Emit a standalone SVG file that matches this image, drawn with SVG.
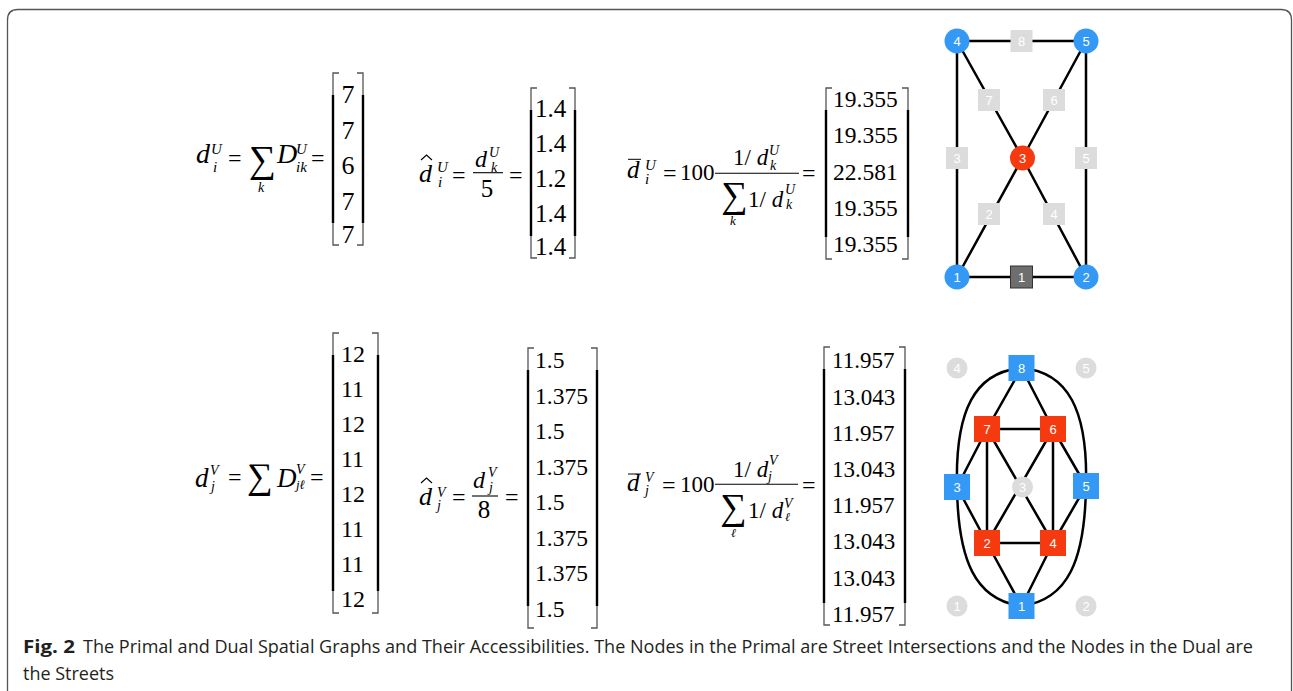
<svg xmlns="http://www.w3.org/2000/svg" width="1293" height="691" viewBox="0 0 1293 691">
<style>
.m{font-family:"Liberation Serif","Times New Roman",serif;fill:#000}
.i{font-style:italic}
.br{fill:none;stroke:#555;stroke-width:1.3}
.bm{fill:none;stroke:#000;stroke-width:2.4}
.bar{stroke:#000;stroke-width:1.1}
.e{stroke:#000;stroke-width:2.5;fill:none}
.nl{font-family:"Liberation Sans",Arial,sans-serif;font-size:13px;fill:#fff;text-anchor:middle}
.blue{fill:#3399f5}
.red{fill:#f53a0f}
.lg{fill:#dcdcdc}
.cap{font-family:"Open Sans","Noto Sans",sans-serif;font-size:17.5px;fill:#231f20}
</style>
<rect width="1293" height="691" fill="#fff"/>
<path d="M7.5,691 V20 Q7.5,9.5 18,9.5 H1281 Q1291.5,9.5 1291.5,20 V691" fill="none" stroke="#555" stroke-width="1.3"/>

<!-- Top row equations -->
<g id="eq-top-1">
<text class="m i" x="196" y="163" font-size="28">d</text>
<text class="m i" x="211" y="154" font-size="15">U</text>
<text class="m i" x="213" y="172" font-size="15">i</text>
<text class="m" x="228" y="166" font-size="24">=</text>
<text class="m" x="249" y="172" font-size="38">∑</text>
<text class="m i" x="258" y="192" font-size="14">k</text>
<text class="m i" x="277" y="163" font-size="28">D</text>
<text class="m i" x="296" y="154" font-size="15">U</text>
<text class="m i" x="296" y="172" font-size="15">ik</text>
<text class="m" x="311" y="166" font-size="24">=</text>
<path class="br" d="M339,73 H333 V245 H339 M357,73 H363 V245 H357"/>
<path class="bm" d="M333,95 V223 M363,95 V223"/>
<g class="m" font-size="26" text-anchor="middle">
<text x="348" y="103">7</text><text x="348" y="138.5">7</text><text x="348" y="174">6</text><text x="348" y="210">7</text><text x="348" y="243">7</text>
</g>
</g>

<g id="eq-top-2">
<text class="m i" x="419" y="182" font-size="26">d</text>
<path d="M421,160 L426.5,155 L432,160" fill="none" stroke="#000" stroke-width="1.1"/>
<text class="m i" x="437" y="172" font-size="15">U</text>
<text class="m i" x="438" y="187" font-size="15">i</text>
<text class="m" x="452" y="183" font-size="24">=</text>
<text class="m i" x="475" y="167" font-size="24">d</text>
<text class="m i" x="489" y="157" font-size="14">U</text>
<text class="m i" x="491" y="172" font-size="14">k</text>
<line class="bar" x1="473" y1="172.7" x2="503" y2="172.7"/>
<text class="m" x="487" y="197" font-size="25" text-anchor="middle">5</text>
<text class="m" x="509" y="183" font-size="24">=</text>
<path class="br" d="M537,88 H531 V258 H537 M569,88 H575 V258 H569"/>
<path class="bm" d="M531,110 V236 M575,110 V236"/>
<g class="m" font-size="25">
<text x="535" y="117">1.4</text><text x="535" y="152">1.4</text><text x="535" y="187">1.2</text><text x="535" y="222">1.4</text><text x="535" y="254.5">1.4</text>
</g>
</g>

<g id="eq-top-3">
<text class="m i" x="627" y="178" font-size="25">d</text>
<line x1="628" y1="159.3" x2="641" y2="159.3" stroke="#000" stroke-width="1"/>
<text class="m i" x="645" y="170" font-size="15">U</text>
<text class="m i" x="645" y="184" font-size="15">i</text>
<text class="m" x="663" y="181" font-size="24">=</text>
<text class="m" x="680" y="180" font-size="23">100</text>
<text class="m" x="733" y="165" font-size="23">1/ <tspan class="i">d</tspan></text>
<text class="m i" x="769" y="155" font-size="14">U</text>
<text class="m i" x="770" y="170" font-size="14">k</text>
<line class="bar" x1="715" y1="173.3" x2="799" y2="173.3"/>
<text class="m" x="721" y="207" font-size="37">∑</text>
<text class="m" x="748" y="207" font-size="23">1/ <tspan class="i">d</tspan></text>
<text class="m i" x="785" y="194" font-size="14">U</text>
<text class="m i" x="786" y="209" font-size="14">k</text>
<text class="m i" x="730" y="225" font-size="13">k</text>
<text class="m" x="802" y="181" font-size="24">=</text>
<path class="br" d="M832,88 H826 V259 H832 M902,88 H908 V259 H902"/>
<path class="bm" d="M826,110 V237 M908,110 V237"/>
<g class="m" font-size="23.5">
<text x="833" y="107">19.355</text><text x="833" y="143">19.355</text><text x="833" y="180">22.581</text><text x="833" y="215.5">19.355</text><text x="833" y="251.5">19.355</text>
</g>
</g>

<!-- Bottom row equations -->
<g id="eq-bot-1">
<text class="m i" x="195" y="487" font-size="27">d</text>
<text class="m i" x="210" y="475" font-size="14">V</text>
<text class="m i" x="211" y="491" font-size="14">j</text>
<text class="m" x="228" y="485" font-size="24">=</text>
<text class="m" x="247" y="488" font-size="36">∑</text>
<text class="m i" x="277" y="487" font-size="27">D</text>
<text class="m i" x="296" y="474" font-size="14">V</text>
<text class="m i" x="296" y="489" font-size="13">jℓ</text>
<text class="m" x="310" y="485" font-size="24">=</text>
<path class="br" d="M339,333 H333 V613 H339 M372,333 H378 V613 H372"/>
<path class="bm" d="M333,355 V591 M378,355 V591"/>
<g class="m" font-size="24">
<text x="341" y="361.7">12</text><text x="341" y="396.7">11</text><text x="341" y="431.7">12</text><text x="341" y="466.7">11</text><text x="341" y="501.7">12</text><text x="341" y="536.7">11</text><text x="341" y="571.7">11</text><text x="341" y="606.7">12</text>
</g>
</g>

<g id="eq-bot-2">
<text class="m i" x="419" y="505" font-size="26">d</text>
<path d="M421,483 L426.5,478 L432,483" fill="none" stroke="#000" stroke-width="1.1"/>
<text class="m i" x="437" y="497" font-size="14">V</text>
<text class="m i" x="437" y="510" font-size="14">j</text>
<text class="m" x="452" y="505" font-size="24">=</text>
<text class="m i" x="473" y="488" font-size="24">d</text>
<text class="m i" x="488" y="477" font-size="14">V</text>
<text class="m i" x="489" y="492" font-size="14">j</text>
<line class="bar" x1="472" y1="496" x2="498" y2="496"/>
<text class="m" x="484" y="518" font-size="25" text-anchor="middle">8</text>
<text class="m" x="505" y="505" font-size="24">=</text>
<path class="br" d="M534,348 H528 V628 H534 M591,348 H597 V628 H591"/>
<path class="bm" d="M528,370 V606 M597,370 V606"/>
<g class="m" font-size="23.5">
<text x="535" y="368.3">1.5</text><text x="535" y="403.8">1.375</text><text x="535" y="439.3">1.5</text><text x="535" y="474.8">1.375</text><text x="535" y="510.3">1.5</text><text x="535" y="545.8">1.375</text><text x="535" y="581.3">1.375</text><text x="535" y="616.8">1.5</text>
</g>
</g>

<g id="eq-bot-3">
<text class="m i" x="627" y="491" font-size="25">d</text>
<line x1="628" y1="474" x2="641" y2="474" stroke="#000" stroke-width="1"/>
<text class="m i" x="645" y="482" font-size="14">V</text>
<text class="m i" x="645" y="495" font-size="14">j</text>
<text class="m" x="662" y="493" font-size="24">=</text>
<text class="m" x="680" y="492" font-size="23">100</text>
<text class="m" x="733" y="477" font-size="23">1/ <tspan class="i">d</tspan></text>
<text class="m i" x="769" y="465" font-size="14">V</text>
<text class="m i" x="768" y="481" font-size="14">j</text>
<line class="bar" x1="715" y1="484.3" x2="798" y2="484.3"/>
<text class="m" x="720" y="519" font-size="37">∑</text>
<text class="m" x="748" y="518" font-size="23">1/ <tspan class="i">d</tspan></text>
<text class="m i" x="784" y="508" font-size="14">V</text>
<text class="m i" x="785" y="521" font-size="12">ℓ</text>
<text class="m i" x="731" y="537" font-size="12">ℓ</text>
<text class="m" x="802" y="493" font-size="24">=</text>
<path class="br" d="M830,347 H824 V625 H830 M899,347 H905 V625 H899"/>
<path class="bm" d="M824,369 V603 M905,369 V603"/>
<g class="m" font-size="23">
<text x="832" y="368.3">11.957</text><text x="832" y="404.5">13.043</text><text x="832" y="440.7">11.957</text><text x="832" y="476.9">13.043</text><text x="832" y="513.1">11.957</text><text x="832" y="549.3">13.043</text><text x="832" y="585.5">13.043</text><text x="832" y="621.7">11.957</text>
</g>
</g>

<!-- Primal graph -->
<g id="primal-edges">
<path class="e" d="M957,41 H1086 M957,41 V277 M1086,41 V277 M957,277 H1086 M957,41 L1022.5,158 L1086,277 M1086,41 L1022.5,158 L957,277"/>
</g>
<g id="p-street-8"><rect class="lg" x="1010.5" y="30" width="22" height="22"/><text class="nl" x="1021.5" y="45.5">8</text></g>
<g id="p-street-7"><rect class="lg" x="978" y="89" width="22" height="22"/><text class="nl" x="989" y="104.5">7</text></g>
<g id="p-street-6"><rect class="lg" x="1043" y="89" width="22" height="22"/><text class="nl" x="1054" y="104.5">6</text></g>
<g id="p-street-3"><rect class="lg" x="946" y="147" width="22" height="22"/><text class="nl" x="957" y="162.5">3</text></g>
<g id="p-street-5"><rect class="lg" x="1075" y="147" width="22" height="22"/><text class="nl" x="1086" y="162.5">5</text></g>
<g id="p-street-2"><rect class="lg" x="978" y="203" width="22" height="22"/><text class="nl" x="989" y="218.5">2</text></g>
<g id="p-street-4"><rect class="lg" x="1043" y="203" width="22" height="22"/><text class="nl" x="1054" y="218.5">4</text></g>
<g id="p-street-1"><rect x="1010.5" y="266" width="22" height="22" fill="#6e6e6e" stroke="#333" stroke-width="1"/><text class="nl" x="1021.5" y="281.5">1</text></g>
<g id="p-node-4"><circle class="blue" cx="957" cy="41" r="12.5"/><text class="nl" x="957" y="45.5">4</text></g>
<g id="p-node-5"><circle class="blue" cx="1086" cy="41" r="12.5"/><text class="nl" x="1086" y="45.5">5</text></g>
<g id="p-node-1"><circle class="blue" cx="957" cy="277" r="12.5"/><text class="nl" x="957" y="281.5">1</text></g>
<g id="p-node-2"><circle class="blue" cx="1086" cy="277" r="12.5"/><text class="nl" x="1086" y="281.5">2</text></g>
<g id="p-node-3"><circle class="red" cx="1022.5" cy="158" r="12.5"/><text class="nl" x="1022.5" y="162.5">3</text></g>

<!-- Dual graph -->
<g id="dual-edges">
<path class="e" d="M1021.5,368 L987,429 M1021.5,368 L1053,429 M987,429 H1053 M987,429 L957,487 M987,429 V543 M987,429 L1053,543 M1053,429 L987,543 M1053,429 L1086,486 M1053,429 V543 M957,487 L987,543 M1086,486 L1053,543 M987,543 H1053 M987,543 L1021.5,606 M1053,543 L1021.5,606"/>
<path class="e" d="M1021.5,368 C975,372 955,410 957,487 C958,560 975,600 1021.5,606"/>
<path class="e" d="M1021.5,368 C1068,372 1088,410 1086,486 C1085,560 1068,600 1021.5,606"/>
</g>
<g id="d-int-4"><circle class="lg" cx="957" cy="368" r="10.5"/><text class="nl" x="957" y="372.5">4</text></g>
<g id="d-int-5"><circle class="lg" cx="1086" cy="368" r="10.5"/><text class="nl" x="1086" y="372.5">5</text></g>
<g id="d-int-3"><circle class="lg" cx="1022.5" cy="487" r="10.5"/><text class="nl" x="1022.5" y="491.5">3</text></g>
<g id="d-int-1"><circle class="lg" cx="957" cy="606" r="10.5"/><text class="nl" x="957" y="610.5">1</text></g>
<g id="d-int-2"><circle class="lg" cx="1086" cy="606" r="10.5"/><text class="nl" x="1086" y="610.5">2</text></g>
<g id="d-node-8"><rect class="blue" x="1008.5" y="355" width="26" height="26"/><text class="nl" x="1021.5" y="372.5">8</text></g>
<g id="d-node-3"><rect class="blue" x="944" y="474" width="26" height="26"/><text class="nl" x="957" y="491.5">3</text></g>
<g id="d-node-5"><rect class="blue" x="1073" y="473" width="26" height="26"/><text class="nl" x="1086" y="490.5">5</text></g>
<g id="d-node-1"><rect class="blue" x="1008.5" y="593" width="26" height="26"/><text class="nl" x="1021.5" y="610.5">1</text></g>
<g id="d-node-7"><rect class="red" x="974" y="416" width="26" height="26"/><text class="nl" x="987" y="433.5">7</text></g>
<g id="d-node-6"><rect class="red" x="1040" y="416" width="26" height="26"/><text class="nl" x="1053" y="433.5">6</text></g>
<g id="d-node-2"><rect class="red" x="974" y="530" width="26" height="26"/><text class="nl" x="987" y="547.5">2</text></g>
<g id="d-node-4"><rect class="red" x="1040" y="530" width="26" height="26"/><text class="nl" x="1053" y="547.5">4</text></g>

<!-- Caption -->
<g id="caption">
<text class="cap" x="23" y="653" font-weight="bold" textLength="52" lengthAdjust="spacingAndGlyphs">Fig. 2</text>
<text class="cap" x="83" y="653" textLength="1170" lengthAdjust="spacingAndGlyphs">The Primal and Dual Spatial Graphs and Their Accessibilities. The Nodes in the Primal are Street Intersections and the Nodes in the Dual are</text>
<text class="cap" x="23" y="680" textLength="91" lengthAdjust="spacingAndGlyphs">the Streets</text>
</g>
</svg>
